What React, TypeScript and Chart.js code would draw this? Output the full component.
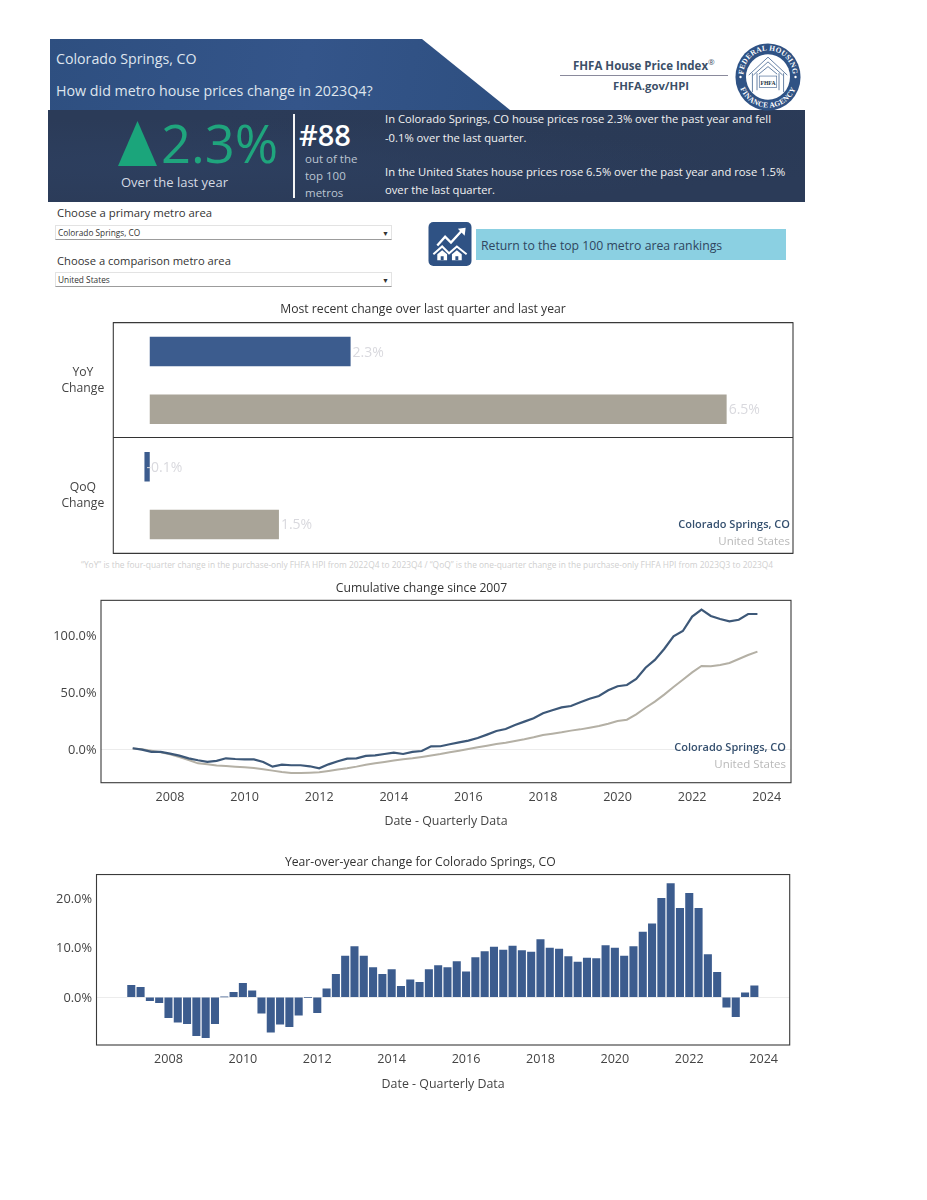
import React, { useEffect, useRef } from "react";
import { Chart, registerables } from "chart.js";

Chart.register(...registerables);

const FONT = "'Open Sans', sans-serif";
const BLUE = "#3c5c8e";
const GREY = "#a9a498";
const LINE_BLUE = "#3d5878";
const LINE_GREY = "#b4b0a5";

const changeCategories = [["YoY", "Change"], ["QoQ", "Change"]];
const primaryName = "Colorado Springs, CO";
const comparisonName = "United States";
const primaryChange = [2.27, -0.06];
const comparisonChange = [6.52, 1.46];
const primaryChangeLabels = ["2.3%", "-0.1%"];
const comparisonChangeLabels = ["6.5%", "1.5%"];

const yearTicks = [2008, 2010, 2012, 2014, 2016, 2018, 2020, 2022, 2024];
const cumulativeTicks = [0, 50, 100];
const yoyTicks = [0, 10, 20];

const quarters = [
  2007, 2007.25, 2007.5, 2007.75, 2008, 2008.25, 2008.5, 2008.75, 2009, 2009.25, 2009.5, 2009.75,
  2010, 2010.25, 2010.5, 2010.75, 2011, 2011.25, 2011.5, 2011.75, 2012, 2012.25, 2012.5, 2012.75,
  2013, 2013.25, 2013.5, 2013.75, 2014, 2014.25, 2014.5, 2014.75, 2015, 2015.25, 2015.5, 2015.75,
  2016, 2016.25, 2016.5, 2016.75, 2017, 2017.25, 2017.5, 2017.75, 2018, 2018.25, 2018.5, 2018.75,
  2019, 2019.25, 2019.5, 2019.75, 2020, 2020.25, 2020.5, 2020.75, 2021, 2021.25, 2021.5, 2021.75,
  2022, 2022.25, 2022.5, 2022.75, 2023, 2023.25, 2023.5, 2023.75,
];

const cumulativePrimary = [
  0.9, -0.3, -2.3, -2.3, -3.8, -5.6, -7.9, -9.6, -11.1, -10.2, -7.9, -8.5,
  -8.8, -8.8, -11.1, -15.2, -13.5, -14, -14, -14.9, -16.7, -13.2, -10.5, -8.2,
  -7.9, -5.8, -5.3, -4.1, -2.9, -4.1, -2.3, -1.5, 2.6, 2.7, 4.4, 6.1,
  7.6, 9.9, 12.9, 16.1, 17.8, 21.3, 24.3, 27.2, 31.6, 34.2, 36.8, 38,
  41.2, 44.4, 46.8, 51.8, 55.3, 56.4, 61.7, 71.6, 78.4, 88, 99.1, 103.8,
  116.4, 122.5, 117, 114.3, 112.3, 113.7, 118.7, 118.7,
];

const cumulativeComparison = [
  0.6, 0, -1.2, -2.6, -4.4, -6.7, -9.4, -12.3, -13.2, -14.3, -14.6, -15.2,
  -15.8, -16.4, -17.5, -18.7, -19.9, -20.8, -20.8, -20.5, -20.2, -19, -17.8, -16.7,
  -15.2, -13.5, -12.3, -11.1, -9.9, -8.8, -7.9, -6.7, -5.4, -4.2, -2.6, -1.2,
  0.3, 1.8, 3.2, 4.7, 5.8, 7.3, 8.8, 10.5, 12.6, 13.7, 14.9, 16.4,
  17.5, 19, 20.5, 22.5, 24.9, 26, 30.7, 36.5, 41.8, 48, 54.7, 61.1,
  67.5, 73.1, 72.8, 74, 75.7, 79.2, 82.7, 85.7,
];

const yoyPrimary = [
  2.4, 2.0, -0.7, -1.1, -4.1, -5.0, -5.3, -7.7, -8.1, -5.3, 0.05, 1.0,
  2.8, 1.3, -3.2, -7.0, -5.4, -5.9, -3.6, -0.05, -3.1, 1.7, 4.6, 8.3,
  10.2, 8.3, 6.0, 4.6, 5.6, 2.2, 3.5, 3.0, 5.6, 6.4, 6.0, 7.2,
  5.1, 8.0, 9.2, 10.1, 9.5, 10.3, 9.4, 9.1, 11.6, 9.9, 9.7, 8.2,
  7.1, 7.9, 7.8, 10.4, 9.9, 8.3, 10.2, 13.1, 14.8, 19.9, 22.9, 17.9,
  20.9, 17.9, 8.6, 5.0, -2.0, -3.9, 0.9, 2.3,
];

const boxPlugin = {
  id: "box",
  afterDraw(chart: any) {
    const { ctx, chartArea: a } = chart;
    ctx.save();
    ctx.strokeStyle = "#3a3a3a";
    ctx.lineWidth = 1.1;
    ctx.strokeRect(a.left, a.top, a.right - a.left, a.bottom - a.top);
    ctx.restore();
  },
};

function legendPlugin(right: number, y1: number, y2: number) {
  return {
    id: "insideLegend",
    afterDraw(chart: any) {
      const { ctx } = chart;
      ctx.save();
      ctx.textAlign = "right";
      ctx.textBaseline = "middle";
      ctx.font = `600 11px ${FONT}`;
      ctx.fillStyle = "#35506f";
      ctx.fillText(primaryName, right, y1);
      ctx.font = `11.5px ${FONT}`;
      ctx.fillStyle = "#b9b9b9";
      ctx.fillText(comparisonName, right, y2);
      ctx.restore();
    },
  };
}

const barLabelPlugin = {
  id: "barLabels",
  afterDatasetsDraw(chart: any) {
    const { ctx } = chart;
    ctx.save();
    ctx.font = `14px ${FONT}`;
    ctx.fillStyle = "#d9d9de";
    ctx.textBaseline = "middle";
    ctx.textAlign = "left";
    chart.data.datasets.forEach((ds: any, i: number) => {
      chart.getDatasetMeta(i).data.forEach((bar: any, j: number) => {
        ctx.fillText(ds.valueLabels[j], bar.x + 2, bar.y + 1);
      });
    });
    ctx.restore();
  },
};

const titleOpts = (text: string, top: number, bottom: number) => ({
  display: true,
  text,
  color: "#333",
  font: { family: FONT, size: 12.2, weight: "normal" as const },
  padding: { top, bottom },
});

const xAxis = (min: number, max: number, height: number) => ({
  type: "linear" as const,
  offset: false,
  min,
  max,
  afterBuildTicks: (s: any) => {
    s.ticks = yearTicks.map((value) => ({ value }));
  },
  afterFit: (s: any) => {
    s.height = height;
  },
  grid: { display: false, drawTicks: false, offset: false },
  border: { display: false },
  ticks: {
    autoSkip: false,
    maxRotation: 0,
    color: "#444",
    padding: 7,
    font: { family: FONT, size: 12.6 },
    callback: (v: any) => String(v),
  },
  title: {
    display: true,
    text: "Date - Quarterly Data",
    color: "#444",
    padding: 0,
    font: { family: FONT, size: 12.4 },
  },
});

const yAxis = (min: number, max: number, width: number, tickValues: number[]) => ({
  min,
  max,
  afterBuildTicks: (s: any) => {
    s.ticks = tickValues.map((value) => ({ value }));
  },
  afterFit: (s: any) => {
    s.width = width;
  },
  grid: {
    drawTicks: false,
    color: (c: any) => (c.tick && c.tick.value === 0 ? "rgba(200,200,200,0.35)" : "rgba(0,0,0,0)"),
  },
  border: { display: false },
  ticks: {
    color: "#444",
    padding: 4.5,
    labelOffset: 1,
    font: { family: FONT, size: 12.8 },
    callback: (v: any) => Number(v).toFixed(1) + "%",
  },
});

function useChart(build: () => any) {
  const ref = useRef<HTMLCanvasElement | null>(null);
  useEffect(() => {
    const chart = new Chart(ref.current as HTMLCanvasElement, build());
    return () => chart.destroy();
  }, []);
  return ref;
}

const canvasStyle = (left: number, top: number, width: number, height: number): React.CSSProperties => ({
  position: "absolute",
  left,
  top,
  width,
  height,
});

function ChangeChart() {
  const ref = useChart(() => ({
    type: "bar",
    data: {
      labels: changeCategories,
      datasets: [
        { label: primaryName, data: primaryChange, backgroundColor: BLUE, valueLabels: primaryChangeLabels, barPercentage: 0.51, categoryPercentage: 1 },
        { label: comparisonName, data: comparisonChange, backgroundColor: GREY, valueLabels: comparisonChangeLabels, barPercentage: 0.51, categoryPercentage: 1 },
      ],
    },
    options: {
      indexAxis: "y",
      responsive: false,
      animation: false,
      layout: { padding: { top: 0, left: 0, right: 20, bottom: 24.7 } },
      plugins: {
        legend: { display: false },
        tooltip: { enabled: false },
        title: titleOpts("Most recent change over last quarter and last year", 3.9, 6.16),
      },
      scales: {
        x: { display: false, min: -0.412, max: 7.27 },
        y: {
          afterFit: (s: any) => {
            s.width = 60.3;
            s.paddingTop = 0;
            s.paddingBottom = 0;
          },
          grid: { offset: true, drawTicks: false, color: "#333", lineWidth: 1.1 },
          border: { display: false },
          ticks: { crossAlign: "center", padding: 9, color: "#444", font: { family: FONT, size: 12.2, lineHeight: 1.35 } },
        },
      },
    },
    plugins: [boxPlugin, barLabelPlugin, legendPlugin(737, 226.5, 243.5)],
  }));
  return <canvas ref={ref} width={760} height={280} style={canvasStyle(53, 298, 760, 280)} />;
}

function CumulativeChart() {
  const ref = useChart(() => ({
    type: "line",
    data: {
      datasets: [
        {
          label: primaryName,
          data: quarters.map((x, i) => ({ x, y: cumulativePrimary[i] })),
          borderColor: LINE_BLUE,
          borderWidth: 2.2,
          pointRadius: 0,
          tension: 0,
        },
        {
          label: comparisonName,
          data: quarters.map((x, i) => ({ x, y: cumulativeComparison[i] })),
          borderColor: LINE_GREY,
          borderWidth: 2,
          pointRadius: 0,
          tension: 0,
        },
      ],
    },
    options: {
      responsive: false,
      animation: false,
      layout: { padding: { left: 0, top: 0, right: 21, bottom: 10.8 } },
      plugins: {
        legend: { display: false },
        tooltip: { enabled: false },
        title: titleOpts("Cumulative change since 2007", 5, 4.7),
      },
      scales: {
        x: xAxis(2006.15, 2024.65, 46.5),
        y: yAxis(-29.3, 130.7, 49, cumulativeTicks),
      },
    },
    plugins: [boxPlugin, legendPlugin(734, 171.5, 188.5)],
  }));
  return <canvas ref={ref} width={760} height={264} style={canvasStyle(52, 576, 760, 264)} />;
}

function YoyChart() {
  const ref = useChart(() => ({
    type: "bar",
    data: {
      datasets: [
        {
          label: primaryName,
          data: quarters.map((x, i) => ({ x, y: yoyPrimary[i] })),
          backgroundColor: BLUE,
          barThickness: 7.4,
        },
      ],
    },
    options: {
      responsive: false,
      animation: false,
      layout: { padding: { left: 0, top: 0, right: 22.3, bottom: 8 } },
      plugins: {
        legend: { display: false },
        tooltip: { enabled: false },
        title: titleOpts("Year-over-year change for Colorado Springs, CO", 5, 4.9),
      },
      scales: {
        x: xAxis(2006.065, 2024.7, 47),
        y: yAxis(-9.6, 24.7, 45.5, yoyTicks),
      },
    },
    plugins: [boxPlugin],
  }));
  return <canvas ref={ref} width={761} height={250} style={canvasStyle(51, 850, 761, 250)} />;
}

const txt = (
  left: number,
  top: number,
  size: number,
  color: string,
  extra: React.CSSProperties = {},
): React.CSSProperties => ({
  position: "absolute",
  left,
  top,
  fontSize: size,
  color,
  lineHeight: 1,
  whiteSpace: "nowrap",
  fontFamily: FONT,
  ...extra,
});

function Seal() {
  const h = "#4a6a95";
  return (
    <svg width={66} height={68} viewBox="0 0 72 72" preserveAspectRatio="none" style={{ position: "absolute", left: 735, top: 43 }}>
      <defs>
        <path id="sealTop" d="M 9.5 40 A 27 27 0 1 1 62.5 40" />
        <path id="sealBottom" d="M 3.5 36 A 32.5 32.5 0 0 0 68.5 36" />
      </defs>
      <circle cx="36" cy="36" r="35.5" fill="#2f5284" />
      <circle cx="36" cy="36" r="24" fill="#fff" />
      <text fontFamily="'Liberation Serif', serif" fontSize="8" fontWeight="700" fill="#fff" letterSpacing="0.3">
        <textPath href="#sealTop" startOffset="50%" textAnchor="middle">FEDERAL HOUSING</textPath>
      </text>
      <text fontFamily="'Liberation Serif', serif" fontSize="8" fontWeight="700" fill="#fff" letterSpacing="0.3">
        <textPath href="#sealBottom" startOffset="50%" textAnchor="middle">FINANCE AGENCY</textPath>
      </text>
      <circle cx="6" cy="36" r="1.3" fill="#fff" />
      <circle cx="66" cy="36" r="1.3" fill="#fff" />
      <path d="M 15 34 L 36 15 L 57 34 M 19 52 L 19 32 M 53 52 L 53 32" fill="none" stroke={h} strokeWidth="0.9" />
      <path d="M 20 34 L 36 20 L 52 34 M 24 50 L 24 32 M 48 50 L 48 32" fill="none" stroke={h} strokeWidth="0.9" />
      <path d="M 26 33 L 36 25 L 46 33" fill="none" stroke={h} strokeWidth="0.9" />
      <rect x="26.5" y="35" width="19" height="12" fill="#fff" stroke={h} strokeWidth="0.7" />
      <text x="36" y="44" textAnchor="middle" fontFamily="'Liberation Serif', serif" fontSize="6.2" fontWeight="700" fill="#234">FHFA</text>
    </svg>
  );
}

function ReturnIcon() {
  return (
    <svg width={44} height={44} viewBox="0 0 44 45" style={{ position: "absolute", left: 428, top: 221.5 }}>
      <rect width="44" height="45" rx="5" fill="#2f5284" />
      <path d="M 9 24 L 17 15 L 23 21 L 34 9" fill="none" stroke="#fff" strokeWidth="2.4" />
      <path d="M 30 7 L 38 6 L 37 14 Z" fill="#fff" />
      <path d="M 5 33 L 14 25 L 21 32 L 29 25 L 39 33" fill="none" stroke="#fff" strokeWidth="2" />
      <path d="M 9 39 L 9 33 L 14 29 L 19 33 L 19 39 Z M 24 39 L 24 33 L 29 29 L 34 33 L 34 39 Z" fill="#fff" />
      <rect x="12.5" y="35" width="3" height="4" fill="#2f5284" />
      <rect x="27.5" y="35" width="3" height="4" fill="#2f5284" />
    </svg>
  );
}

function Dropdown({ top, label }: { top: number; label: string }) {
  return (
    <div
      style={{
        position: "absolute",
        left: 55,
        top,
        width: 337,
        height: 15,
        background: "#fff",
        border: "1px solid #e3e3e3",
        borderBottom: "1px solid #9c9c9c",
        boxSizing: "border-box",
      }}
    >
      <span style={txt(2, 2.5, 8.3, "#333")}>{label}</span>
      <span style={txt(326, 4, 7, "#333")}>▼</span>
    </div>
  );
}

function Header() {
  return (
    <>
      <div
        style={{
          position: "absolute",
          left: 50,
          top: 39,
          width: 460,
          height: 71,
          background: "linear-gradient(100deg,#2e4f80,#34558a 55%,#2e4f80)",
          clipPath: "polygon(0 0, 372px 0, 460px 71px, 0 71px)",
        }}
      />
      <div
        style={{
          position: "absolute",
          left: 48,
          top: 110,
          width: 757,
          height: 92,
          background:
            "radial-gradient(ellipse at 20% 60%,#2d3f5f,transparent 60%),radial-gradient(ellipse at 70% 30%,#2a3a56,transparent 55%),#2b3b58",
        }}
      />
      <div style={txt(56, 51.5, 14.2, "#dfe5ee")}>Colorado Springs, CO</div>
      <div style={txt(56, 83.5, 14.25, "#dfe5ee")}>How did metro house prices change in 2023Q4?</div>

      <div style={{ position: "absolute", left: 118, top: 121, width: 39, height: 45, background: "#1ba57b", clipPath: "polygon(50% 0, 100% 100%, 0 100%)" }} />
      <div style={txt(161, 117, 52.5, "#1fa57d", { fontWeight: 400 })}>2.3%</div>
      <div style={txt(121, 176, 13, "#d4dae3")}>Over the last year</div>
      <div style={{ position: "absolute", left: 293, top: 114, width: 1.5, height: 84, background: "#f4f4f4" }} />
      <div style={txt(299, 120, 29, "#ffffff", { fontWeight: 600 })}>#88</div>
      <div style={txt(305, 153, 11.5, "#bcc5d2")}>out of the</div>
      <div style={txt(305, 170, 11.5, "#bcc5d2")}>top 100</div>
      <div style={txt(305, 187, 11.5, "#bcc5d2")}>metros</div>

      <div style={txt(385, 113, 11.22, "#f2f2f2")}>In Colorado Springs, CO house prices rose 2.3% over the past year and fell</div>
      <div style={txt(385, 132, 11.22, "#f2f2f2")}>-0.1% over the last quarter.</div>
      <div style={txt(385, 166, 11.22, "#f2f2f2")}>In the United States house prices rose 6.5% over the past year and rose 1.5%</div>
      <div style={txt(385, 184, 11.22, "#f2f2f2")}>over the last quarter.</div>

      <div style={txt(573, 57.5, 11.5, "#3c5068", { fontWeight: 700 })}>
        FHFA House Price Index<sup style={{ fontSize: 8, fontWeight: 400 }}>®</sup>
      </div>
      <div style={{ position: "absolute", left: 560, top: 75, width: 168, height: 1, background: "#8a8a9c" }} />
      <div style={txt(613, 80, 11.3, "#3c5068", { fontWeight: 700 })}>FHFA.gov/HPI</div>
      <Seal />

      <div style={txt(57, 206.5, 11.35, "#333")}>Choose a primary metro area</div>
      <Dropdown top={225} label="Colorado Springs, CO" />
      <div style={txt(57, 254.5, 11.2, "#333")}>Choose a comparison metro area</div>
      <Dropdown top={272} label="United States" />

      <ReturnIcon />
      <div style={{ position: "absolute", left: 476, top: 228.5, width: 310, height: 31, background: "#8bd0e2" }} />
      <div style={txt(481, 240, 12.25, "#2f4660")}>Return to the top 100 metro area rankings</div>

      <div style={txt(81, 561, 8.38, "#cfcfcf")}>
        “YoY” is the four-quarter change in the purchase-only FHFA HPI from 2022Q4 to 2023Q4 / “QoQ” is the one-quarter change in the purchase-only FHFA HPI from 2023Q3 to 2023Q4
      </div>
    </>
  );
}

export default function App() {
  return (
    <div style={{ position: "absolute", left: 0, top: 0, width: 927, height: 1200, background: "#fff", overflow: "hidden" }}>
      <Header />
      <ChangeChart />
      <CumulativeChart />
      <YoyChart />
    </div>
  );
}
